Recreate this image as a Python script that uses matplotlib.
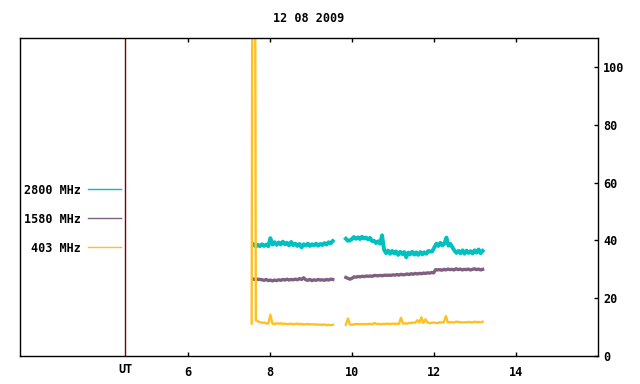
import numpy as np
import matplotlib.pyplot as plt

# observation date and axis setup
title = "12 08 2009"
ut_mark = 4.46
xticks = [6, 8, 10, 12, 14]
yticks = [0, 20, 40, 60, 80, 100]

# 2800 MHz (two recording segments)
t_2800_a = (7.60, 9.53)
f2800_a = [38.6, 37.9, 38.5, 38.0, 38.7, 38.1, 38.6, 38.0, 40.8, 38.6,
           39.4, 38.5, 39.3, 38.6, 39.6, 38.7, 39.2, 38.3, 39.5, 38.4,
           38.9, 38.1, 38.8, 37.6, 38.7, 38.2, 38.9, 38.1, 38.7, 38.3,
           38.9, 38.2, 38.8, 38.4, 39.1, 38.6, 39.4, 39.0, 39.8]
t_2800_b = (9.85, 13.19)
f2800_b = [40.6, 39.9, 40.0, 40.5, 41.2, 40.6, 41.1, 40.5, 41.3, 40.7,
           41.0, 40.4, 40.9, 39.8, 39.9, 39.1, 39.7, 38.9, 41.8, 36.8,
           35.6, 36.5, 35.4, 36.4, 35.5, 36.2, 35.0, 36.1, 35.3, 36.0,
           34.2, 35.8, 35.2, 36.1, 35.1, 35.9, 35.0, 36.0, 35.2, 35.9,
           35.4, 36.4, 36.1, 36.3, 37.6, 38.9, 38.1, 39.2, 38.3, 38.9,
           41.0, 38.2, 38.8, 37.6, 36.5, 35.7, 36.4, 35.6, 36.6, 35.4,
           36.5, 35.7, 36.3, 35.5, 36.6, 35.8, 36.9, 35.6, 36.4]

# 1580 MHz
t_1580_a = (7.60, 9.53)
f1580_a = [26.6, 26.4, 26.6, 26.5, 26.4, 26.2, 26.5, 26.1, 26.3, 26.0,
           26.3, 26.1, 26.4, 26.2, 26.5, 26.3, 26.6, 26.3, 26.5, 26.4,
           26.6, 26.4, 26.8, 26.5, 27.1, 26.4, 26.2, 26.5, 26.1, 26.4,
           26.2, 26.5, 26.3, 26.4, 26.2, 26.5, 26.3, 26.6, 26.5]
t_1580_b = (9.85, 13.19)
f1580_b = [27.2, 26.9, 26.6, 26.9, 27.4, 27.3, 27.5, 27.4, 27.6, 27.5,
           27.7, 27.6, 27.7, 27.6, 27.9, 27.8, 27.8, 27.9, 27.8, 28.0,
           27.9, 28.0, 27.9, 28.1, 28.0, 28.2, 28.0, 28.3, 28.1, 28.2,
           28.4, 28.2, 28.5, 28.3, 28.6, 28.4, 28.6, 28.5, 28.7, 28.6,
           28.8, 28.7, 28.9, 28.8, 29.9, 29.8, 29.9, 29.7, 30.0, 29.8,
           30.1, 29.9, 30.0, 29.8, 30.2, 29.9, 30.1, 29.8, 30.0, 29.9,
           30.1, 29.8, 30.0, 30.2, 29.9, 30.1, 29.8, 30.0]

# 403 MHz
t_403_a = (7.55, 9.53)
f403_a = [11.2, 400.0, 12.4, 12.0, 11.7, 11.5, 11.6, 11.3, 11.2, 14.3,
          11.2, 11.1, 11.3, 11.2, 11.3, 11.1, 11.2, 11.0, 11.1, 11.2,
          11.0, 11.1, 11.2, 11.0, 11.1, 10.9, 11.0, 11.1, 10.9, 11.0,
          10.9, 11.0, 10.8, 10.9, 10.8, 10.9, 10.7, 10.8, 10.7, 10.8]
t_403_b = (9.85, 13.19)
f403_b = [10.8, 13.0, 10.9, 10.8, 11.0, 11.1, 11.0, 11.1, 11.0, 11.1,
          11.0, 11.1, 11.1, 11.0, 11.4, 11.1, 11.1, 11.0, 11.1, 11.1,
          11.2, 11.1, 11.1, 11.2, 11.1, 11.2, 11.1, 13.2, 11.2, 11.3,
          11.2, 11.5, 11.4, 11.6, 11.5, 12.4, 11.6, 13.4, 11.5, 12.7,
          11.6, 11.4, 11.5, 11.6, 11.5, 11.4, 11.7, 11.6, 11.7, 13.8,
          11.6, 11.7, 11.7, 11.6, 11.9, 11.8, 11.7, 11.6, 11.7, 11.6,
          11.8, 11.7, 11.6, 11.9, 11.7, 11.8, 11.6, 11.9]

c2800 = "#00c0c0"
c1580 = "#806080"
c403 = "#ffc020"

mono = "DejaVu Sans Mono"
fs = 8.5

fig = plt.figure(figsize=(6.4, 3.84), dpi=100)
ax = fig.add_axes([20.3 / 640, 1 - 356 / 384, (597.7 - 20.3) / 640, (356 - 38.3) / 384])


def seg(span, vals):
    return np.linspace(span[0], span[1], len(vals)), vals


for spans, color, label, lw in [
    ([(t_2800_a, f2800_a), (t_2800_b, f2800_b)], c2800, "2800 MHz", 2.8),
    ([(t_1580_a, f1580_a), (t_1580_b, f1580_b)], c1580, "1580 MHz", 2.4),
    ([(t_403_a, f403_a), (t_403_b, f403_b)], c403, "403 MHz", 1.7),
]:
    for i, (span, vals) in enumerate(spans):
        t, v = seg(span, vals)
        ax.plot(t, v, color=color, lw=lw, label=label if i == 0 else None)

ax.axvline(ut_mark, color="#800000", lw=1)

ax.set_xlim(1.9, 16.0)
ax.set_ylim(0, 110)

ax.set_xticks(xticks)
ax.set_xticklabels([str(x) for x in xticks], family=mono, fontsize=fs, fontweight="bold")
ax.tick_params(axis="x", direction="in", top=True, length=3, width=1, pad=7)
ax.text(ut_mark, -0.022, "UT", transform=ax.get_xaxis_transform(), ha="center", va="top",
        family=mono, fontsize=fs, fontweight="bold")

ax.yaxis.tick_right()
ax.set_yticks(yticks)
ax.set_yticklabels([str(y) for y in yticks], family=mono, fontsize=fs, fontweight="bold")
ax.tick_params(axis="y", direction="in", left=False, right=True, length=3, width=1, pad=4)

for s in ax.spines.values():
    s.set_color("black")
    s.set_linewidth(1)

leg = ax.legend(loc="center right", bbox_to_anchor=(0.1744, 0.431), frameon=False,
                markerfirst=False, handlelength=2.8, handletextpad=0.6, labelspacing=1.36,
                borderpad=0, borderaxespad=0, prop={"family": mono, "size": fs, "weight": "bold"})
for h in leg.get_lines():
    h.set_linewidth(1)

fig.text(309 / 640, 1 - 19 / 384, title, ha="center", va="center",
         family=mono, fontsize=fs, fontweight="bold")

fig.savefig("out.png", dpi=100)
